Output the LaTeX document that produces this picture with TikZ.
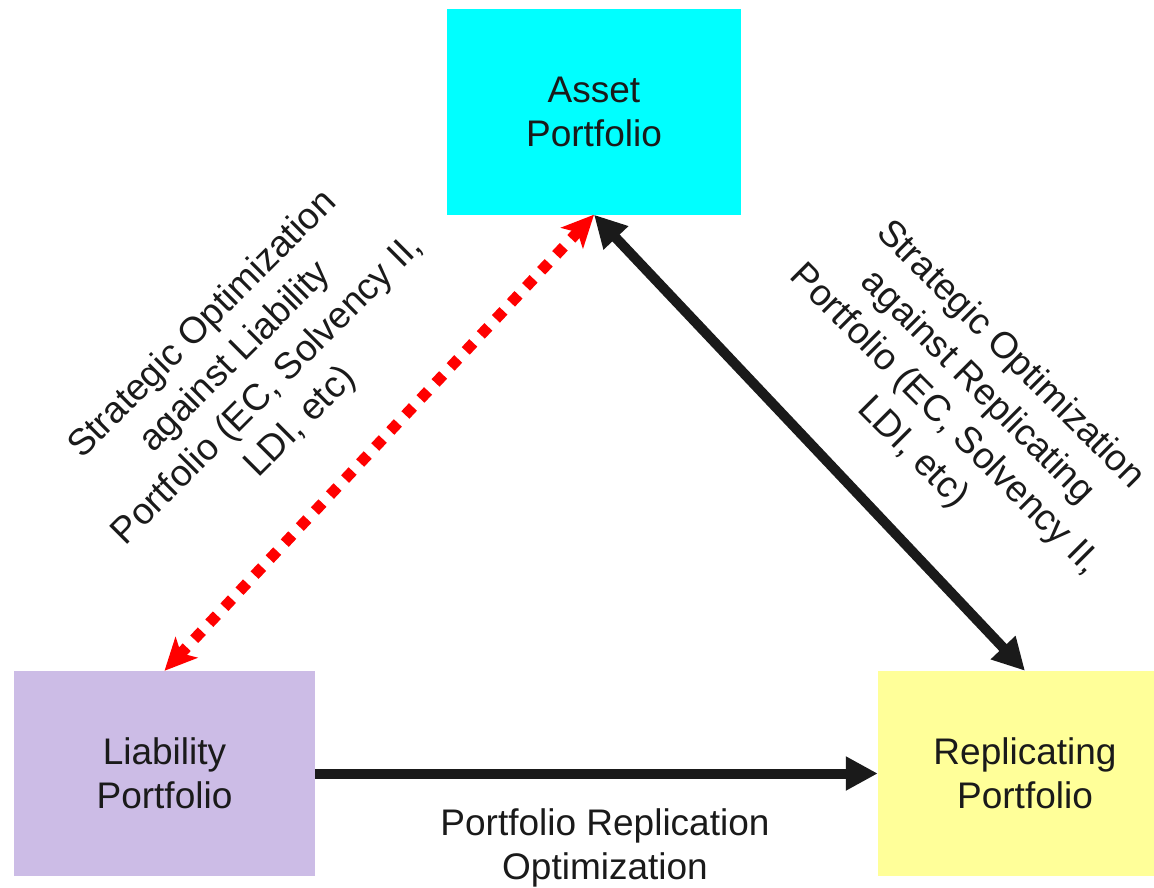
\documentclass[tikz,border=0pt]{standalone}
\usepackage{fontspec}
\setmainfont{Liberation Sans}
\usepackage{xcolor}
\usetikzlibrary{arrows.meta,positioning}
\definecolor{aqua}{RGB}{0,255,255}
\definecolor{lavender}{RGB}{204,188,230}
\definecolor{paleyellow}{RGB}{255,255,153}
\definecolor{ink}{RGB}{26,26,26}

\begin{document}
\begin{tikzpicture}[x=1pt,y=-1pt,
  every node/.style={text=ink,font=\fontsize{37}{44}\selectfont,align=center},
  box/.style={shape=rectangle,minimum width=294pt,minimum height=205pt,inner sep=0pt},
  note/.style={font=\fontsize{37}{46}\selectfont},
  link/.style={line width=10pt,ink,-{Triangle[length=32pt,width=32pt]}}]
\useasboundingbox (0,0) rectangle (1154,888);

\node[box,fill=aqua] (1) at (594,112){Asset\\Portfolio};
\node[box,fill=lavender,minimum width=301pt] (2) at (164.5,773.5){Liability\\Portfolio};
\node[box,fill=paleyellow] (3) at (1025,773.5){Replicating\\Portfolio};
\node[note,rotate=45] (4) at (252,374){Strategic Optimization\\against Liability\\Portfolio (EC, Solvency II,\\LDI, etc)};
\node[note,rotate=-45] (5) at (961,404){Strategic Optimization\\against Replicating\\Portfolio (EC, Solvency II,\\LDI, etc)};
\node (6) at (605,848){Portfolio Replication\\Optimization};

\draw[line width=11pt,red,dash pattern=on 11pt off 11pt,
  {Stealth[length=32pt,width=30pt,inset=8pt]}-{Stealth[length=32pt,width=30pt,inset=8pt]}] (1.south) -- (2.north);
\draw[link,{Triangle[length=32pt,width=32pt]}-{Triangle[length=32pt,width=32pt]}] (1.south) -- (3.north);
\draw[link] (2.east) -- (3.west);

\end{tikzpicture}
\end{document}
